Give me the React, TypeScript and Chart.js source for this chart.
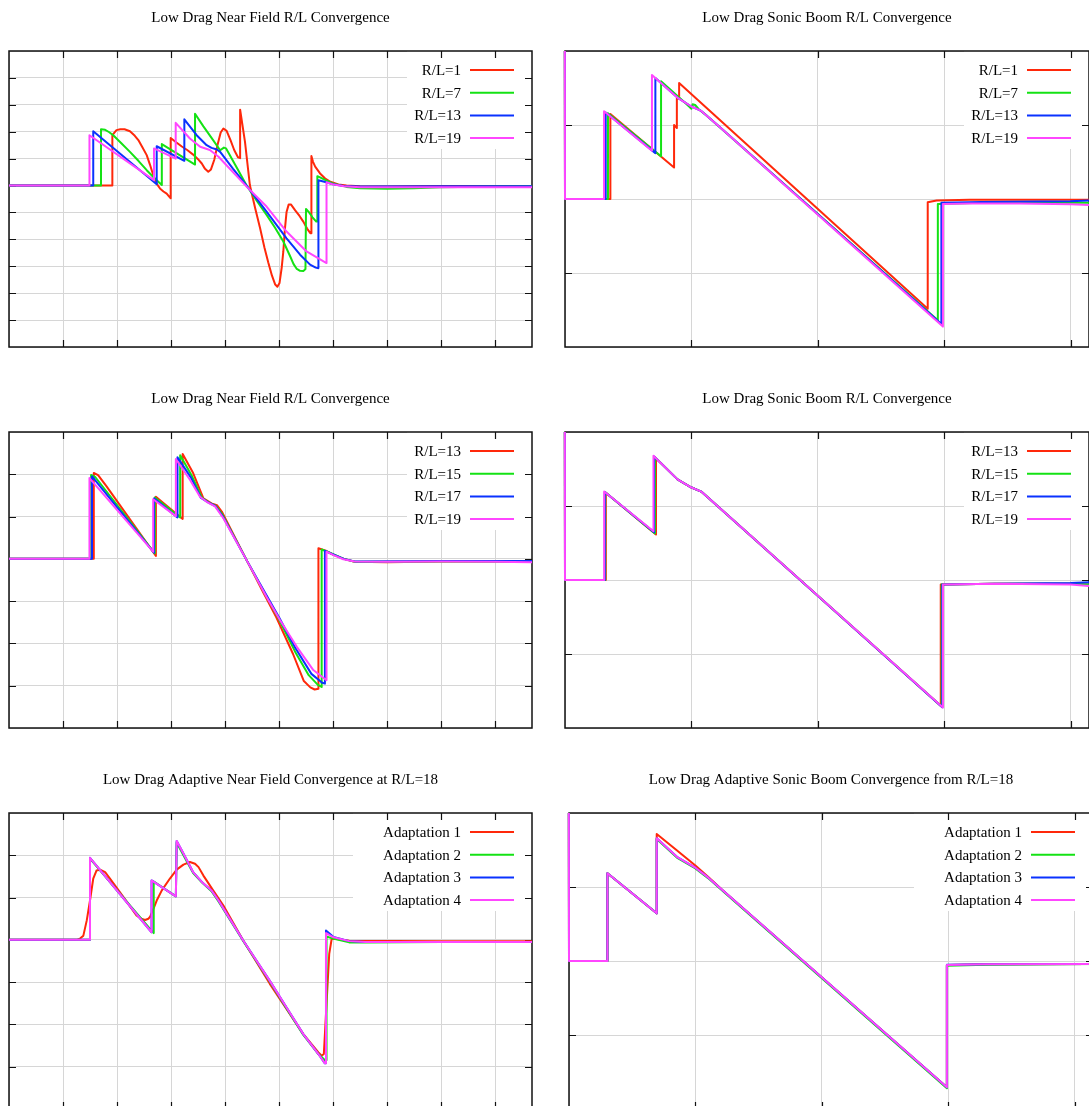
import React, { useEffect, useRef } from "react";
import { Chart, registerables } from "chart.js";

Chart.register(...registerables);

type P = [number, number];

const COLORS = ["rgb(255,40,10)", "rgb(20,226,20)", "rgb(10,50,255)", "rgb(255,70,255)"];

const TITLE_NF = "Low Drag Near Field R/L Convergence";
const TITLE_SB = "Low Drag Sonic Boom R/L Convergence";
const TITLE_NF_ADAPT = "Low Drag Adaptive Near Field Convergence at R/L=18";
const TITLE_SB_ADAPT = "Low Drag Adaptive Sonic Boom Convergence from R/L=18";

const LABELS_ROW1 = ["R/L=1", "R/L=7", "R/L=13", "R/L=19"];
const LABELS_ROW2 = ["R/L=13", "R/L=15", "R/L=17", "R/L=19"];
const LABELS_ROW3 = ["Adaptation 1", "Adaptation 2", "Adaptation 3", "Adaptation 4"];

const X_MAX_NF = 9.685;
const X_MAX_SB = 4.146;

// ---- Row 1, near field ----
const nf1_rl1: P[] = [
  [0, 0], [1.914, 0], [1.914, 1.87], [1.99, 2.06], [2.06, 2.09], [2.14, 2.09], [2.24, 2.02], [2.33, 1.85],
  [2.395, 1.69], [2.47, 1.42], [2.55, 1.13], [2.61, 0.78], [2.67, 0.39], [2.74, 0.05], [2.8, -0.12],
  [2.86, -0.22], [2.92, -0.3], [2.97, -0.42], [2.994, -0.47], [2.994, 1.77], [3.1, 1.6], [3.2, 1.45],
  [3.3, 1.32], [3.41, 1.15], [3.5, 0.98], [3.57, 0.82], [3.63, 0.62], [3.69, 0.51], [3.74, 0.6],
  [3.8, 0.95], [3.86, 1.5], [3.92, 1.97], [3.97, 2.12], [4.03, 2.03], [4.1, 1.7], [4.17, 1.32],
  [4.24, 1.05], [4.28, 1.02], [4.28, 2.82], [4.37, 1.62], [4.46, 0.02], [4.56, -0.85], [4.65, -1.59],
  [4.73, -2.3], [4.8, -2.85], [4.87, -3.35], [4.93, -3.68], [4.97, -3.76], [5.01, -3.62], [5.05, -3.05],
  [5.08, -2.45], [5.11, -1.6], [5.14, -0.98], [5.18, -0.7], [5.22, -0.7], [5.3, -0.92], [5.38, -1.13],
  [5.45, -1.34], [5.52, -1.6], [5.58, -1.77], [5.6, -1.77], [5.6, 1.1], [5.63, 0.88], [5.67, 0.7],
  [5.76, 0.45], [5.85, 0.27], [5.95, 0.14], [6.1, 0.04], [6.25, 0.0], [6.5, -0.03], [7, -0.04],
  [8, -0.02], [9, -0.02], [9.685, -0.02],
];
const nf1_rl7: P[] = [
  [0, 0], [1.704, 0], [1.704, 2.09], [1.78, 2.07], [1.85, 1.99], [1.93, 1.87], [2.08, 1.57], [2.24, 1.25],
  [2.4, 0.91], [2.55, 0.57], [2.7, 0.26], [2.83, 0.02], [2.83, 1.54], [3.445, 0.78], [3.445, 2.67],
  [3.6, 2.2], [3.78, 1.69], [3.91, 1.31], [3.98, 1.41], [4.02, 1.38], [4.09, 1.13], [4.25, 0.55],
  [4.4, 0.0], [4.6, -0.6], [4.77, -1.09], [4.93, -1.58], [5.08, -2.08], [5.2, -2.6], [5.27, -2.92],
  [5.33, -3.1], [5.39, -3.17], [5.45, -3.18], [5.49, -3.1], [5.5, -0.87], [5.55, -0.98], [5.62, -1.18],
  [5.69, -1.34], [5.71, -1.34], [5.71, 0.35], [5.76, 0.3], [5.88, 0.18], [6.0, 0.08], [6.25, -0.05],
  [6.5, -0.1], [7, -0.12], [7.5, -0.1], [8, -0.06], [9, -0.04], [9.685, -0.03],
];
const nf1_rl13: P[] = [
  [0, 0], [1.56, 0], [1.56, 2.02], [2.735, 0.05], [2.735, 1.46], [3.247, 0.92], [3.247, 2.46],
  [3.475, 1.87], [3.66, 1.5], [3.75, 1.4], [3.85, 1.34], [3.91, 1.25], [4.15, 0.62], [4.4, 0.0],
  [4.77, -0.97], [5.14, -1.96], [5.39, -2.57], [5.575, -2.94], [5.68, -3.05], [5.73, -3.07],
  [5.73, 0.2], [5.84, 0.14], [6.0, 0.05], [6.2, -0.02], [6.5, -0.04], [8, -0.03], [9.685, -0.03],
];
const nf1_rl19: P[] = [
  [0, 0], [1.49, 0], [1.49, 1.87], [2.685, 0.2], [2.685, 1.38], [3.087, 1.0], [3.087, 2.33], [3.35, 1.75],
  [3.54, 1.44], [3.72, 1.32], [3.88, 1.07], [4.4, -0.04], [4.77, -0.78], [5.14, -1.71], [5.51, -2.45],
  [5.88, -2.88], [5.88, 0.12], [5.99, 0.05], [6.2, -0.03], [6.5, -0.06], [8, -0.06], [9.685, -0.06],
];

// ---- Row 1, sonic boom ----
const sb1_rl1: P[] = [
  [-0.002, 3], [0, 0], [0.359, 0], [0.359, 1.149], [0.863, 0.425], [0.863, 1.0], [0.885, 0.96], [0.885, 1.36],
  [0.903, 1.36], [0.903, 1.568], [2.87, -1.484], [2.87, -0.045], [2.94, -0.02], [3.2, -0.01], [4.146, -0.01],
];
const sb1_rl7: P[] = [
  [-0.002, 3], [0, 0], [0.34, 0], [0.34, 1.16], [0.76, 0.577], [0.76, 1.59], [0.95, 1.3], [1.0, 1.22],
  [1.01, 1.28], [1.03, 1.27], [1.06, 1.21], [1.12, 1.13], [2.95, -1.64], [2.95, -0.068], [3.3, -0.05],
  [4.0, -0.05], [4.146, -0.05],
];
const sb1_rl13: P[] = [
  [-0.002, 3], [0, 0], [0.322, 0], [0.322, 1.17], [0.715, 0.62], [0.715, 1.635], [0.889, 1.37], [1.0, 1.25],
  [1.078, 1.19], [1.213, 0.99], [2.978, -1.69], [2.978, -0.05], [3.3, -0.04], [4.0, -0.03], [4.146, -0.02],
];
const sb1_rl19: P[] = [
  [-0.002, 3], [0, 0], [0.309, 0], [0.309, 1.185], [0.688, 0.653], [0.688, 1.676], [0.889, 1.37], [1.0, 1.25],
  [1.078, 1.19], [1.213, 0.99], [2.99, -1.724], [2.99, -0.068], [3.2, -0.06], [3.6, -0.06], [4.0, -0.07],
  [4.146, -0.08],
];

// ---- Row 2, near field ----
const nf2_rl13: P[] = [
  [0, 0], [1.57, 0], [1.57, 2.03], [1.65, 1.98], [1.81, 1.71], [2.72, 0.07], [2.72, 1.47], [3.216, 0.945],
  [3.216, 2.48], [3.41, 2.03], [3.6, 1.43], [3.75, 1.31], [3.85, 1.27], [3.94, 1.12], [4.4, -0.03],
  [4.69, -0.75], [4.95, -1.38], [5.26, -2.25], [5.46, -2.89], [5.58, -3.04], [5.66, -3.09], [5.73, -3.07],
  [5.73, 0.25], [5.88, 0.185], [6.0, 0.1], [6.2, 0.0], [6.4, -0.07], [7, -0.08], [8, -0.06], [9, -0.06],
  [9.685, -0.06],
];
const nf2_rl15: P[] = [
  [0, 0], [1.52, 0], [1.52, 1.985], [1.6, 1.93], [2.7, 0.13], [2.7, 1.45], [3.17, 0.98], [3.17, 2.45],
  [3.38, 1.98], [3.57, 1.45], [3.7, 1.33], [3.83, 1.25], [3.95, 1.05], [4.4, -0.03], [4.72, -0.78],
  [4.98, -1.38], [5.3, -2.2], [5.55, -2.75], [5.72, -2.98], [5.79, -3.03], [5.79, 0.22], [5.92, 0.16],
  [6.2, 0.0], [6.4, -0.07], [8, -0.06], [9.685, -0.07],
];
const nf2_rl17: P[] = [
  [0, 0], [1.537, 0], [1.537, 1.95], [2.685, 0.145], [2.685, 1.43], [3.12, 0.98], [3.12, 2.4], [3.37, 1.92],
  [3.55, 1.45], [3.68, 1.34], [3.82, 1.25], [3.96, 1.0], [4.4, -0.03], [4.75, -0.82], [5.0, -1.38],
  [5.3, -2.1], [5.6, -2.72], [5.8, -2.93], [5.85, -2.95], [5.85, 0.19], [5.97, 0.12], [6.2, 0.0],
  [6.4, -0.06], [8, -0.05], [9.685, -0.05],
];
const nf2_rl19: P[] = [
  [0, 0], [1.49, 0], [1.49, 1.91], [2.67, 0.17], [2.67, 1.41], [3.09, 1.01], [3.09, 2.36], [3.35, 1.87],
  [3.537, 1.47], [3.66, 1.35], [3.815, 1.24], [3.97, 0.96], [4.4, -0.03], [4.77, -0.9], [5.02, -1.45],
  [5.33, -2.08], [5.635, -2.63], [5.88, -2.87], [5.88, 0.17], [6.01, 0.09], [6.19, -0.01], [6.4, -0.06],
  [7, -0.07], [8, -0.06], [9, -0.07], [9.685, -0.08],
];

// ---- Row 2, sonic boom ----
const sb2_rl13: P[] = [
  [-0.002, 3], [0, 0], [0.323, 0], [0.323, 1.18], [0.72, 0.615], [0.72, 1.646], [0.89, 1.36], [0.997, 1.253],
  [1.078, 1.195], [1.213, 0.99], [2.973, -1.7], [2.973, -0.06], [3.4, -0.05], [4.0, -0.05], [4.146, -0.06],
];
const sb2_rl15: P[] = [
  [-0.002, 3], [0, 0], [0.318, 0], [0.318, 1.185], [0.712, 0.63], [0.712, 1.66], [0.89, 1.36], [0.997, 1.253],
  [1.078, 1.195], [1.213, 0.99], [2.98, -1.71], [2.98, -0.06], [3.4, -0.05], [4.0, -0.05], [4.146, -0.06],
];
const sb2_rl17: P[] = [
  [-0.002, 3], [0, 0], [0.315, 0], [0.315, 1.19], [0.705, 0.645], [0.705, 1.67], [0.89, 1.36], [0.997, 1.253],
  [1.078, 1.195], [1.213, 0.99], [2.985, -1.72], [2.985, -0.06], [3.4, -0.05], [4.0, -0.04], [4.146, -0.03],
];
const sb2_rl19: P[] = [
  [-0.002, 3], [0, 0], [0.31, 0], [0.31, 1.195], [0.7, 0.66], [0.7, 1.68], [0.89, 1.36], [0.997, 1.253],
  [1.078, 1.195], [1.213, 0.99], [2.99, -1.724], [2.99, -0.06], [3.4, -0.05], [4.0, -0.06], [4.146, -0.08],
];

// ---- Row 3, adaptive near field ----
const nf3_ad1: P[] = [
  [0, 0], [1.25, 0], [1.315, 0.03], [1.377, 0.1], [1.44, 0.46], [1.5, 0.93], [1.56, 1.45], [1.62, 1.64],
  [1.685, 1.66], [1.78, 1.6], [1.87, 1.45], [2.12, 1.01], [2.36, 0.58], [2.45, 0.5], [2.52, 0.47],
  [2.58, 0.5], [2.61, 0.54], [2.68, 0.75], [2.735, 0.93], [2.83, 1.17], [2.98, 1.45], [3.105, 1.66],
  [3.23, 1.78], [3.35, 1.84], [3.445, 1.8], [3.51, 1.72], [3.6, 1.52], [3.78, 1.17], [3.97, 0.81],
  [4.34, -0.02], [4.83, -1.04], [5.45, -2.23], [5.73, -2.66], [5.79, -2.74], [5.83, -2.7], [5.88, -1.52],
  [5.93, -0.33], [5.975, 0.02], [6.07, 0.02], [6.3, -0.02], [8, -0.03], [9.685, -0.03],
];
const nf3_ad2: P[] = [
  [0, 0], [1.5, 0], [1.5, 1.92], [2.68, 0.16], [2.68, 1.38], [3.09, 1.03], [3.105, 2.3], [3.23, 2.0],
  [3.41, 1.58], [3.57, 1.36], [3.75, 1.15], [3.88, 0.91], [4.03, 0.6], [4.34, -0.03], [4.83, -0.99],
  [5.14, -1.62], [5.45, -2.25], [5.73, -2.7], [5.86, -2.86], [5.88, -2.85], [5.88, 0.08], [6.0, 0.03],
  [6.3, -0.06], [6.6, -0.06], [8, -0.05], [9.685, -0.05],
];
const nf3_ad3: P[] = [
  [0, 0], [1.5, 0], [1.5, 1.94], [2.64, 0.18], [2.64, 1.405], [3.09, 1.03], [3.105, 2.34], [3.23, 2.04],
  [3.41, 1.6], [3.57, 1.37], [3.75, 1.17], [3.88, 0.93], [4.03, 0.62], [4.34, -0.02], [4.83, -0.97],
  [5.14, -1.6], [5.45, -2.23], [5.73, -2.7], [5.85, -2.92], [5.87, -2.92], [5.87, 0.22], [6.01, 0.07],
  [6.3, -0.03], [6.6, -0.05], [8, -0.05], [9.685, -0.05],
];
const nf3_ad4: P[] = [
  [0, 0], [1.5, 0], [1.5, 1.94], [2.64, 0.18], [2.64, 1.405], [3.09, 1.03], [3.105, 2.34], [3.23, 2.04],
  [3.41, 1.6], [3.57, 1.37], [3.75, 1.17], [3.88, 0.93], [4.03, 0.62], [4.34, -0.02], [4.83, -0.97],
  [5.14, -1.6], [5.45, -2.23], [5.73, -2.7], [5.85, -2.92], [5.87, -2.92], [5.87, 0.16], [6.01, 0.06],
  [6.3, -0.03], [6.6, -0.05], [8, -0.05], [9.685, -0.05],
];

// ---- Row 3, adaptive sonic boom ----
const sb3_ad1: P[] = [
  [-0.002, 3], [0, 0], [0.304, 0], [0.304, 1.185], [0.694, 0.644], [0.694, 1.716], [0.85, 1.5], [1.0, 1.29],
  [1.1, 1.14], [1.22, 0.95], [2.99, -1.707], [2.99, -0.054], [3.3, -0.045], [4.146, -0.04],
];
const sb3_ad2: P[] = [
  [-0.002, 3], [0, 0], [0.304, 0], [0.304, 1.185], [0.694, 0.644], [0.694, 1.65], [0.86, 1.39], [1.0, 1.25],
  [1.1, 1.12], [1.4, 0.67], [2.99, -1.72], [2.99, -0.065], [3.3, -0.05], [4.146, -0.04],
];
const sb3_ad3: P[] = [
  [-0.002, 3], [0, 0], [0.304, 0], [0.304, 1.185], [0.694, 0.644], [0.694, 1.66], [0.86, 1.4], [0.995, 1.266],
  [1.1, 1.13], [1.22, 0.95], [2.99, -1.707], [2.99, -0.05], [3.3, -0.045], [4.146, -0.04],
];
const sb3_ad4: P[] = [
  [-0.002, 3], [0, 0], [0.304, 0], [0.304, 1.185], [0.694, 0.644], [0.694, 1.66], [0.86, 1.4], [0.995, 1.266],
  [1.1, 1.13], [1.22, 0.95], [2.99, -1.707], [2.99, -0.054], [3.3, -0.045], [4.146, -0.04],
];

type Panel = {
  title: string;
  labels: string[];
  series: P[][];
  xMax: number;
  yMin: number;
  yMax: number;
  left: number;
  top: number;
  width: number;
  height: number;
};

const PANELS: Panel[] = [
  { title: TITLE_NF, labels: LABELS_ROW1, series: [nf1_rl1, nf1_rl7, nf1_rl13, nf1_rl19], xMax: X_MAX_NF, yMin: -6, yMax: 5, left: 9, top: 51, width: 523, height: 296 },
  { title: TITLE_SB, labels: LABELS_ROW1, series: [sb1_rl1, sb1_rl7, sb1_rl13, sb1_rl19], xMax: X_MAX_SB, yMin: -2, yMax: 2, left: 565, top: 51, width: 524, height: 296 },
  { title: TITLE_NF, labels: LABELS_ROW2, series: [nf2_rl13, nf2_rl15, nf2_rl17, nf2_rl19], xMax: X_MAX_NF, yMin: -4, yMax: 3, left: 9, top: 432, width: 523, height: 296 },
  { title: TITLE_SB, labels: LABELS_ROW2, series: [sb2_rl13, sb2_rl15, sb2_rl17, sb2_rl19], xMax: X_MAX_SB, yMin: -2, yMax: 2, left: 565, top: 432, width: 524, height: 296 },
  { title: TITLE_NF_ADAPT, labels: LABELS_ROW3, series: [nf3_ad1, nf3_ad2, nf3_ad3, nf3_ad4], xMax: X_MAX_NF, yMin: -4, yMax: 3, left: 9, top: 813, width: 523, height: 296 },
  { title: TITLE_SB_ADAPT, labels: LABELS_ROW3, series: [sb3_ad1, sb3_ad2, sb3_ad3, sb3_ad4], xMax: X_MAX_SB, yMin: -2, yMax: 2, left: 569, top: 813, width: 524, height: 296 },
];

const PAD_L = 12;
const PAD_R = 12;
const PAD_T = 50;
const PAD_B = 12;
const FONT = '15px "Liberation Serif", "Times New Roman", serif';

function makeFramePlugin(panel: Panel) {
  return {
    id: "gnuFrame",
    beforeDatasetsDraw(chart: any) {
      const { ctx, chartArea } = chart;
      const { left, top, right, bottom } = chartArea;
      const maxChars = Math.max(...panel.labels.map((l) => l.length));
      const boxW = 71 + 9 * maxChars;
      ctx.save();
      ctx.fillStyle = "#ffffff";
      ctx.fillRect(right - boxW, top, boxW, 98);
      // border
      ctx.strokeStyle = "#111";
      ctx.lineWidth = 1.5;
      ctx.strokeRect(left, top, right - left, bottom - top);
      // inward ticks on all sides
      ctx.lineWidth = 1.2;
      const xs = chart.scales.x;
      const ys = chart.scales.y;
      const tl = 7;
      xs.ticks.forEach((t: any) => {
        if (t.value <= xs.min || t.value >= xs.max) return;
        const px = Math.round(xs.getPixelForValue(t.value)) + 0.5;
        ctx.beginPath();
        ctx.moveTo(px, bottom);
        ctx.lineTo(px, bottom - tl);
        ctx.moveTo(px, top);
        ctx.lineTo(px, top + tl);
        ctx.stroke();
      });
      ys.ticks.forEach((t: any) => {
        if (t.value <= ys.min || t.value >= ys.max) return;
        const py = Math.round(ys.getPixelForValue(t.value)) + 0.5;
        ctx.beginPath();
        ctx.moveTo(left, py);
        ctx.lineTo(left + tl, py);
        ctx.moveTo(right, py);
        ctx.lineTo(right - tl, py);
        ctx.stroke();
      });
      ctx.restore();
    },
    afterDraw(chart: any) {
      const { ctx, chartArea } = chart;
      const { left, top, right } = chartArea;
      ctx.save();
      ctx.font = FONT;
      ctx.fillStyle = "#000";
      ctx.textBaseline = "alphabetic";
      ctx.textAlign = "center";
      ctx.fillText(panel.title, (left + right) / 2, top - 29);
      ctx.textAlign = "right";
      panel.labels.forEach((lab, i) => {
        const y = top + 19 + 22.7 * i;
        ctx.fillStyle = "#000";
        ctx.fillText(lab, right - 71, y + 5);
        ctx.strokeStyle = COLORS[i];
        ctx.lineWidth = 2;
        ctx.beginPath();
        ctx.moveTo(right - 62, y);
        ctx.lineTo(right - 18, y);
        ctx.stroke();
      });
      ctx.restore();
    },
  };
}

function PanelChart({ panel }: { panel: Panel }) {
  const ref = useRef<HTMLCanvasElement | null>(null);
  const cw = panel.width + PAD_L + PAD_R;
  const ch = panel.height + PAD_T + PAD_B;
  useEffect(() => {
    if (!ref.current) return;
    const gridOpts = { color: "#d6d6d6", lineWidth: 1, drawTicks: false };
    const chart = new Chart(ref.current, {
      type: "line",
      data: {
        datasets: panel.series.map((s, i) => ({
          label: panel.labels[i],
          data: s.map(([x, y]) => ({ x, y })),
          borderColor: COLORS[i],
          backgroundColor: COLORS[i],
          borderWidth: 2,
          pointRadius: 0,
          tension: 0,
          fill: false,
          borderJoinStyle: "round" as const,
          clip: { left: 2, top: 0, right: 1, bottom: 0 },
          order: 3 - i,
        })),
      },
      options: {
        responsive: false,
        animation: false,
        events: [],
        layout: { padding: { left: PAD_L, right: PAD_R, top: PAD_T, bottom: PAD_B }, autoPadding: false },
        plugins: { legend: { display: false }, title: { display: false }, tooltip: { enabled: false } },
        scales: {
          x: {
            type: "linear",
            min: 0,
            max: panel.xMax,
            ticks: { display: false, stepSize: 1, includeBounds: false },
            grid: gridOpts,
            border: { display: false },
          },
          y: {
            type: "linear",
            min: panel.yMin,
            max: panel.yMax,
            ticks: { display: false, stepSize: 1, includeBounds: false },
            grid: gridOpts,
            border: { display: false },
          },
        },
      } as any,
      plugins: [makeFramePlugin(panel)],
    });
    return () => chart.destroy();
  }, [panel]);
  return (
    <canvas
      ref={ref}
      width={cw}
      height={ch}
      style={{ position: "absolute", left: panel.left - PAD_L, top: panel.top - PAD_T, width: cw, height: ch, display: "block" }}
    />
  );
}

export default function App() {
  return (
    <div style={{ position: "fixed", left: 0, top: 0, width: 1089, height: 1106, overflow: "hidden", background: "#fff" }}>
      {PANELS.map((p, i) => (
        <PanelChart key={i} panel={p} />
      ))}
    </div>
  );
}
